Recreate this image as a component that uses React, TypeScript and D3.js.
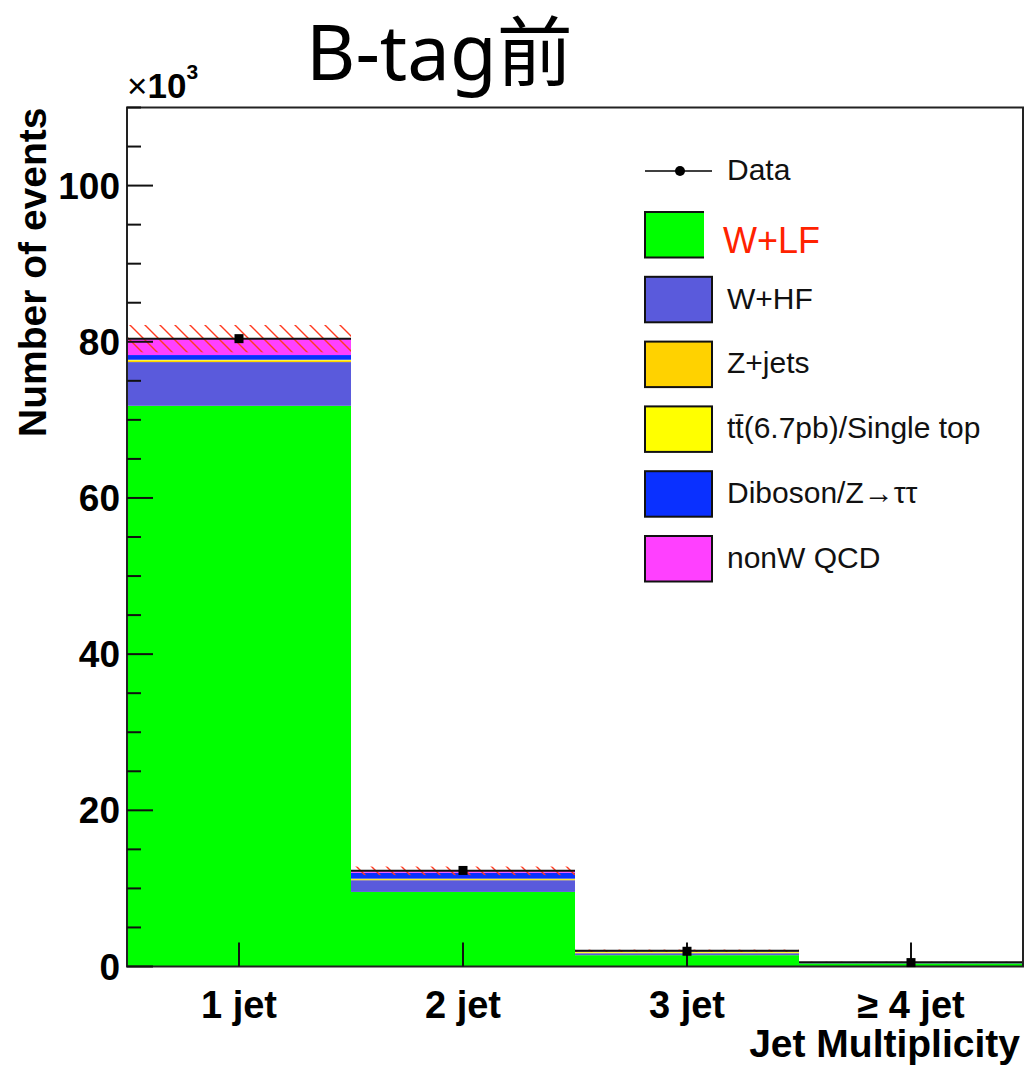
import * as d3 from "d3";

// bins and stacked MC components (units of 10^3 events)
const bins = ["1 jet", "2 jet", "3 jet", "≥ 4 jet"];
const wLF = [71.8, 9.55, 1.45, 0.4];
const wHF = [5.6, 1.5, 0.25, 0.07];
const zJets = [0.2, 0.12, 0.06, 0.02];
const ttbar = [0.1, 0.08, 0.15, 0.05];
const diboson = [0.6, 0.75, 0.05, 0.01];
const nonW = [2.1, 0.25, 0.05, 0.01];
const mcErr = [1.75, 0.55, 0.15, 0.05];
const data = [80.4, 12.3, 1.95, 0.5];
const dataErr = [0.28, 0.11, 0.044, 0.022];
const yMajor = [0, 20, 40, 60, 80, 100];

const series = [
  { name: "W+LF", values: wLF, color: "#00ff00" },
  { name: "W+HF", values: wHF, color: "#5a5adc" },
  { name: "Z+jets", values: zJets, color: "#ffd200" },
  { name: "ttbar", values: ttbar, color: "#ffff00" },
  { name: "Diboson", values: diboson, color: "#0a30ff" },
  { name: "nonW QCD", values: nonW, color: "#ff40ff" },
];

const W = 1026;
const H = 1069;
const margin = { left: 127, right: 3, top: 107.5, bottom: 102.5 };
const font = "'Liberation Sans', Arial, Helvetica, sans-serif";

export default function App() {
  const x = d3.scaleBand().domain(bins).range([margin.left, W - margin.right]).padding(0);
  const y = d3.scaleLinear().domain([0, 110]).range([H - margin.bottom, margin.top]);
  const y0 = y(0);

  const table = bins.map((b, i) => {
    const row: any = { bin: b };
    series.forEach((s) => (row[s.name] = s.values[i]));
    return row;
  });
  const stack = d3.stack<any>().keys(series.map((s) => s.name))(table);
  const totals = bins.map((_, i) => d3.sum(series, (s) => s.values[i]));

  const minor = d3.range(0, 110.01, 5).filter((v) => v % 20 !== 0);
  const bw = x.bandwidth();

  const legendY0 = 212;
  const legendStep = 64.8;
  const boxH = 45.5;
  const legendText = ["W+LF", "W+HF", "Z+jets", "tt\u0304(6.7pb)/Single top", "Diboson/Z\u2192\u03c4\u03c4", "nonW QCD"];

  return (
    <svg width={W} height={H} style={{ position: "absolute", left: 0, top: 0, background: "#fff" }}>
      <defs>
        <pattern id="hatch" patternUnits="userSpaceOnUse" width={15} height={15}>
          <path d="M0,0 L15,15 M-2,13 L2,17 M13,-2 L17,2" stroke="#ff3a20" strokeWidth={1.4} />
        </pattern>
      </defs>

      {/* title */}
      <text x={306} y={80} fontFamily="'Noto Sans', 'Noto Sans CJK SC', sans-serif" fontSize={76}>
        B-tag前
      </text>

      {/* stacked histogram */}
      {stack.map((layer, li) =>
        layer.map((d, i) => (
          <rect
            key={`${li}-${i}`}
            x={x(bins[i])!}
            width={bw}
            y={y(d[1])}
            height={Math.max(0, y(d[0]) - y(d[1]))}
            fill={series[li].color}
          />
        ))
      )}

      {/* MC uncertainty band */}
      {bins.map((b, i) => (
        <rect
          key={`err-${b}`}
          x={x(b)!}
          width={bw}
          y={y(totals[i] + mcErr[i])}
          height={y(totals[i] - mcErr[i]) - y(totals[i] + mcErr[i])}
          fill="url(#hatch)"
        />
      ))}
      {bins.map((b, i) => (
        <line key={`top-${b}`} x1={x(b)!} x2={x(b)! + bw} y1={y(totals[i])} y2={y(totals[i])} stroke="#111" strokeWidth={2} />
      ))}

      {/* frame */}
      <rect
        x={margin.left}
        y={margin.top}
        width={W - margin.left - margin.right}
        height={y0 - margin.top}
        fill="none"
        stroke="#222"
        strokeWidth={2}
      />

      {/* y axis ticks */}
      {yMajor.map((v) => (
        <g key={`ym-${v}`}>
          <line x1={margin.left} x2={margin.left + 26} y1={y(v)} y2={y(v)} stroke="#111" strokeWidth={2} />
          <text x={120} y={y(v) + 13} textAnchor="end" fontFamily={font} fontWeight="bold" fontSize={37}>
            {v}
          </text>
        </g>
      ))}
      {minor.map((v) => (
        <line key={`yn-${v}`} x1={margin.left} x2={margin.left + 14} y1={y(v)} y2={y(v)} stroke="#111" strokeWidth={2} />
      ))}

      {/* x axis ticks + labels */}
      {bins.map((b) => {
        const cx = x(b)! + bw / 2;
        return (
          <g key={`xt-${b}`}>
            <line x1={cx} x2={cx} y1={y0} y2={y0 - 24} stroke="#111" strokeWidth={2} />
            <text x={cx} y={1018} textAnchor="middle" fontFamily={font} fontWeight="bold" fontSize={38}>
              {b}
            </text>
          </g>
        );
      })}
      <text x={1020} y={1057} textAnchor="end" fontFamily={font} fontWeight="bold" fontSize={39}>
        Jet Multiplicity
      </text>

      {/* y title and exponent */}
      <text
        transform={`translate(46,${margin.top}) rotate(-90)`}
        textAnchor="end"
        fontFamily={font}
        fontWeight="bold"
        fontSize={39}
      >
        Number of events
      </text>
      <text x={127} y={97.5} fontFamily={font} fontSize={35}>
        ×
        <tspan fontWeight="bold">10</tspan>
        <tspan fontWeight="bold" fontSize={21} dy={-19}>
          3
        </tspan>
      </text>

      {/* data points */}
      {bins.map((b, i) => {
        const cx = x(b)! + bw / 2;
        return (
          <g key={`d-${b}`}>
            <line x1={cx} x2={cx} y1={y(data[i] + dataErr[i])} y2={y(data[i] - dataErr[i])} stroke="#000" strokeWidth={2} />
            <rect x={cx - 4.5} y={y(data[i]) - 4.5} width={9} height={9} fill="#000" />
          </g>
        );
      })}

      {/* legend */}
      <line x1={645} x2={712} y1={171} y2={171} stroke="#000" strokeWidth={1.5} />
      <circle cx={680} cy={171} r={5} fill="#000" />
      <text x={727} y={179.5} fontFamily={font} fontSize={30} fill="#111">
        Data
      </text>
      {series.map((s, i) => {
        const by = legendY0 + i * legendStep;
        const isLF = i === 0;
        return (
          <g key={`lg-${s.name}`}>
            {isLF ? (
              <>
                <rect x={645} y={by} width={59} height={boxH} fill={s.color} />
                <path d={`M704,${by} H645 V${by + boxH} H704`} fill="none" stroke="#111" strokeWidth={2} />
                <text x={723} y={253.3} fontFamily={font} fontSize={36} fill="#ff2200">
                  {legendText[i]}
                </text>
              </>
            ) : (
              <>
                <rect x={645} y={by} width={67} height={boxH} fill={s.color} stroke="#111" strokeWidth={2} />
                <text x={727} y={by + boxH / 2 + 9} fontFamily={font} fontSize={30} fill="#111">
                  {legendText[i]}
                </text>
              </>
            )}
          </g>
        );
      })}
    </svg>
  );
}
